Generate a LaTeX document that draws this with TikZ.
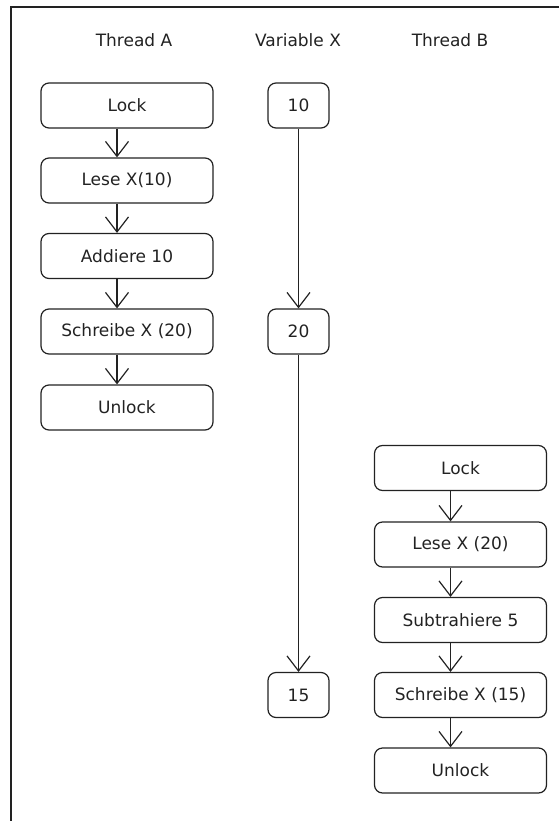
\documentclass[tikz,border=0pt]{standalone}
\usepackage{fontspec}
\setmainfont{DejaVu Sans}
\usetikzlibrary{arrows.meta}
\definecolor{ink}{HTML}{222222}
\tikzset{
  stepbox/.style={draw=ink, line width=1.2pt, rounded corners=8pt, rectangle,
    inner sep=0pt, minimum height=45pt, text=ink,
    font=\fontsize{17}{19}\selectfont},
  wide/.style={stepbox, minimum width=172pt},
  narrow/.style={stepbox, minimum width=61pt},
  head/.style={text=ink, font=\fontsize{17}{19}\selectfont, inner sep=0pt},
  flow/.style={draw=ink, line width=1.2pt, -{Straight Barb[length=15pt,width=23pt]}},
}
\begin{document}
\begin{tikzpicture}[x=1pt, y=-1pt]
\useasboundingbox (0,0) rectangle (559,821);
% open frame: top and left edges only
\draw[ink, line width=2pt] (11,821) -- (11,7) -- (559,7);

% column headings
\node[head] (hA) at (134,40) {Thread A};
\node[head] (hX) at (298,40) {Variable X};
\node[head] (hB) at (450,40) {Thread B};

% Thread A
\node[wide] (a1) at (127,105.5) {Lock};
\node[wide] (a2) at (127,180.5) {Lese X(10)};
\node[wide] (a3) at (127,256) {Addiere 10};
\node[wide] (a4) at (127,331.5) {Schreibe X (20)};
\node[wide] (a5) at (127,407.5) {Unlock};

% variable X
\node[narrow] (x1) at (298.5,105.5) {10};
\node[narrow] (x2) at (298.5,331.5) {20};
\node[narrow] (x3) at (298.5,695) {15};

% Thread B
\node[wide] (b1) at (460.5,468) {Lock};
\node[wide] (b2) at (460.5,544.5) {Lese X (20)};
\node[wide] (b3) at (460.5,620) {Subtrahiere 5};
\node[wide] (b4) at (460.5,695) {Schreibe X (15)};
\node[wide] (b5) at (460.5,770.5) {Unlock};

% control flow in Thread A (shafts sit left of the box centres)
\foreach \u/\v in {a1/a2, a2/a3, a3/a4, a4/a5}
  \draw[flow] ([xshift=-10pt]\u.south) -- ([xshift=-10pt]\v.north);
% control flow in Thread B
\foreach \u/\v in {b1/b2, b2/b3, b3/b4, b4/b5}
  \draw[flow] ([xshift=-10pt]\u.south) -- ([xshift=-10pt]\v.north);
% value history of X
\draw[flow] (x1.south) -- (x2.north);
\draw[flow] (x2.south) -- (x3.north);
\end{tikzpicture}
\end{document}
